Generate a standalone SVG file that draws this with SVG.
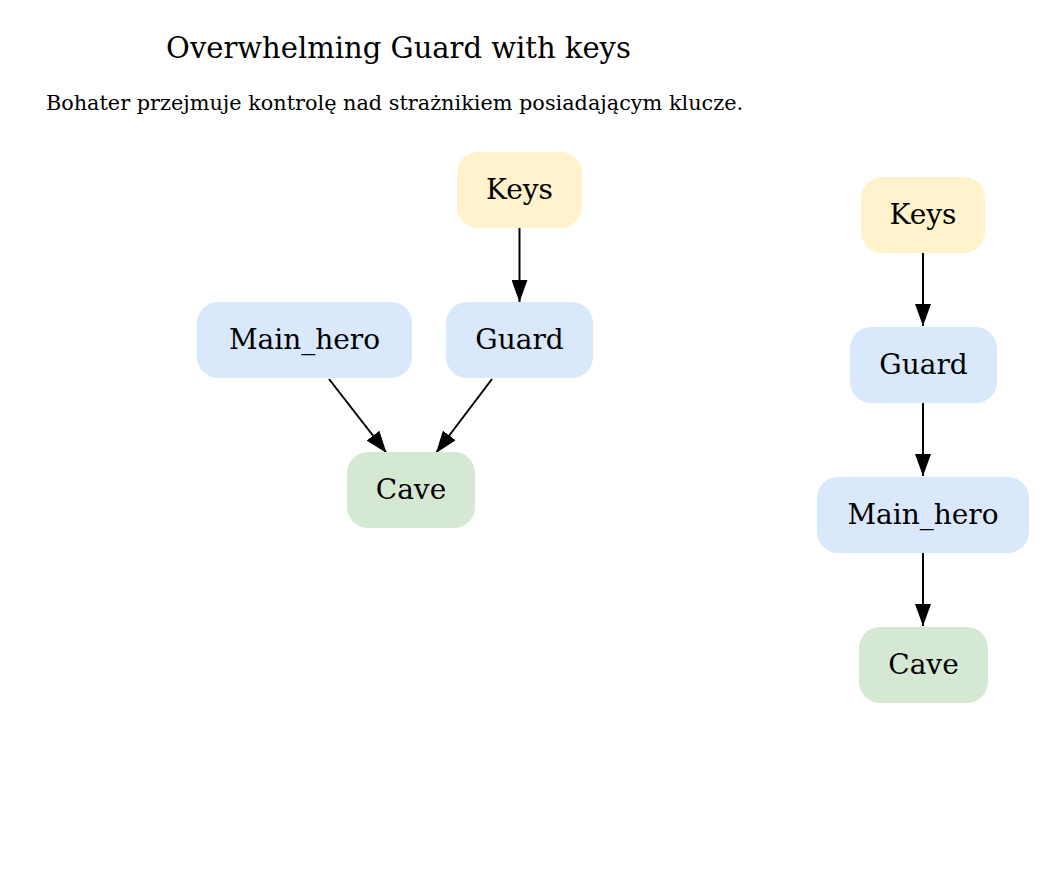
<svg xmlns="http://www.w3.org/2000/svg" width="1057" height="881" viewBox="0 0 1057 881">
<style>
text{font-family:"DejaVu Serif","Liberation Serif",serif;fill:#000;text-anchor:middle}
.lbl{font-size:28px}
.title{font-size:29px}
.sub{font-size:20.8px}
.keys{fill:#FFF2CC}
.char{fill:#DAE8FC}
.place{fill:#D5E8D4}
.edge{stroke:#000;stroke-width:2;fill:none;marker-end:url(#arr)}
</style>
<defs>
<marker id="arr" markerUnits="userSpaceOnUse" markerWidth="22" markerHeight="16" refX="22" refY="8" orient="auto" viewBox="0 0 22 16">
<path d="M0,0 L22,8 L0,16 z" fill="#000"/>
</marker>
</defs>
<rect width="1057" height="881" fill="#fff"/>
<text class="title" x="398.5" y="58">Overwhelming Guard with keys</text>
<text class="sub" x="394.5" y="110">Bohater przejmuje kontrolę nad strażnikiem posiadającym klucze.</text>
<g id="edges">
<path class="edge" d="M519.5,228 L519.5,302"/>
<path class="edge" d="M329,379 L386.5,453"/>
<path class="edge" d="M492,379 L436,453"/>
<path class="edge" d="M923,253 L923,326"/>
<path class="edge" d="M923,403 L923,476"/>
<path class="edge" d="M923,553 L923,626"/>
</g>
<g id="keys1"><rect class="keys" x="457" y="152" width="125" height="76" rx="21"/><text class="lbl" x="519.5" y="199">Keys</text></g>
<g id="main_hero1"><rect class="char" x="197" y="302" width="215" height="76" rx="21"/><text class="lbl" x="304.5" y="349">Main_hero</text></g>
<g id="guard1"><rect class="char" x="446" y="302" width="147" height="76" rx="21"/><text class="lbl" x="519.5" y="349">Guard</text></g>
<g id="cave1"><rect class="place" x="347" y="452" width="128" height="76" rx="21"/><text class="lbl" x="411" y="499">Cave</text></g>
<g id="keys2"><rect class="keys" x="861" y="177" width="124" height="76" rx="21"/><text class="lbl" x="923" y="224">Keys</text></g>
<g id="guard2"><rect class="char" x="850" y="327" width="147" height="76" rx="21"/><text class="lbl" x="923.5" y="374">Guard</text></g>
<g id="main_hero2"><rect class="char" x="817" y="477" width="212" height="76" rx="21"/><text class="lbl" x="923" y="524">Main_hero</text></g>
<g id="cave2"><rect class="place" x="859" y="627" width="129" height="76" rx="21"/><text class="lbl" x="923.5" y="674">Cave</text></g>
</svg>
